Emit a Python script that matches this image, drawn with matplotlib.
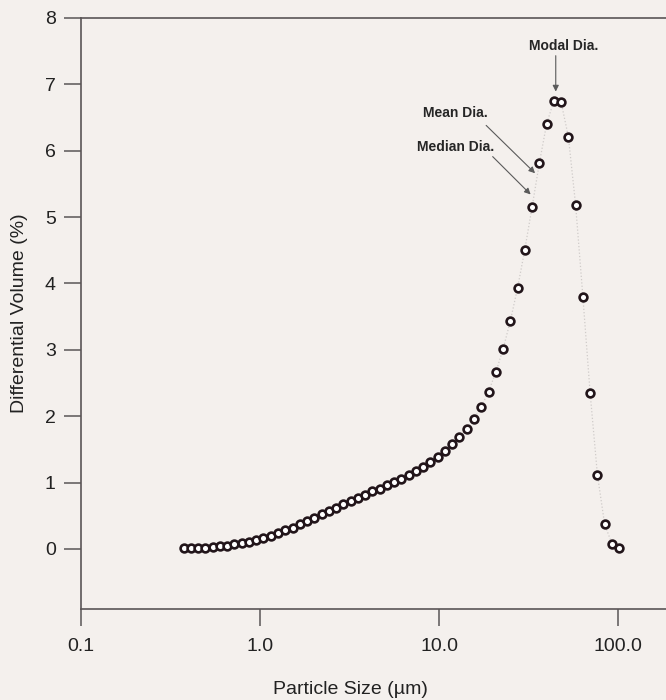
import matplotlib.pyplot as plt

# particle size channels (um) and differential volume (%)
size_um = [0.375, 0.412, 0.452, 0.496, 0.545, 0.598, 0.657, 0.721, 0.791, 0.869,
           0.953, 1.047, 1.149, 1.261, 1.385, 1.520, 1.668, 1.832, 2.011, 2.207,
           2.423, 2.660, 2.920, 3.205, 3.519, 3.863, 4.240, 4.655, 5.110, 5.610,
           6.158, 6.760, 7.421, 8.147, 8.943, 9.818, 10.78, 11.83, 12.99, 14.26,
           15.65, 17.18, 18.86, 20.71, 22.73, 24.95, 27.39, 30.07, 33.01, 36.24,
           39.78, 43.67, 47.94, 52.62, 57.77, 63.41, 69.61, 76.42, 83.89, 92.09,
           101.1]
diff_vol = [0.01, 0.01, 0.02, 0.02, 0.03, 0.04, 0.05, 0.07, 0.09, 0.11,
            0.14, 0.17, 0.20, 0.24, 0.28, 0.32, 0.37, 0.42, 0.47, 0.52,
            0.57, 0.62, 0.67, 0.72, 0.77, 0.82, 0.87, 0.91, 0.96, 1.01,
            1.06, 1.11, 1.17, 1.23, 1.31, 1.39, 1.48, 1.58, 1.69, 1.81,
            1.96, 2.14, 2.37, 2.66, 3.01, 3.43, 3.93, 4.51, 5.15, 5.81,
            6.40, 6.75, 6.73, 6.21, 5.18, 3.80, 2.35, 1.12, 0.37, 0.08,
            0.02]

x_ticks = [0.1, 1.0, 10.0, 100.0]
x_tick_labels = ["0.1", "1.0", "10.0", "100.0"]
y_ticks = [0, 1, 2, 3, 4, 5, 6, 7, 8]

# annotation: label, text position, arrow tail, arrow tip
notes = [
    ("Modal Dia.", (49.3, 7.57), (44.75, 7.43), (44.75, 6.89)),
    ("Mean Dia.", (12.4, 6.56), (18.3, 6.38), (34.3, 5.66)),
    ("Median Dia.", (12.3, 6.06), (19.9, 5.91), (32.4, 5.34)),
]

bg = '#f4f0ed'
plt.rcParams['font.family'] = ['Liberation Sans', 'DejaVu Sans']

fig = plt.figure(figsize=(6.66, 7.0), dpi=100, facecolor=bg)
# the plot frame runs past the right edge of the picture
ax = fig.add_axes([0.1212, 0.1304, 1.0763, 0.8441], facecolor=bg)

ax.plot(size_um, diff_vol, linestyle=':', color='#cfcbc9', lw=0.9, zorder=1)
ax.plot(size_um, diff_vol, linestyle='none', marker='o', markersize=5.6,
        markerfacecolor='white', markeredgecolor='#22151a', markeredgewidth=1.9,
        zorder=2)

ax.set_xscale('log')
ax.set_xlim(0.1, 1000)
ax.set_ylim(-0.9, 8)
ax.set_xticks(x_ticks)
ax.set_xticklabels(x_tick_labels)
ax.set_yticks(y_ticks)
ax.minorticks_off()

for side in ['left', 'bottom', 'top']:
    ax.spines[side].set_color('#5a5556')
    ax.spines[side].set_linewidth(1.2)
ax.spines['right'].set_visible(False)

ax.tick_params(axis='x', direction='out', length=12, width=1.1, color='#5a5556',
               labelsize=14, pad=9, labelcolor='#222222')
ax.tick_params(axis='y', direction='out', length=12, width=1.1, color='#5a5556',
               labelsize=14, pad=6, labelcolor='#222222')

fig.text(350 / 666, 1 - 690 / 700, "Particle Size (µm)", fontsize=14,
         color='#222222', ha='center', va='center')
ax.set_ylabel("Differential Volume (%)", fontsize=14, color='#222222', labelpad=12)

for label, txt_pos, tail, tip in notes:
    ax.text(txt_pos[0], txt_pos[1], label, ha='center', va='center',
            fontsize=10, fontweight='bold', color='#262626')
    ax.annotate('', xy=tip, xytext=tail,
                arrowprops=dict(arrowstyle='-|>', color='#5a5a5a', lw=0.8,
                                mutation_scale=9, shrinkA=0, shrinkB=0))

fig.savefig("out.png", dpi=100, facecolor=bg)
